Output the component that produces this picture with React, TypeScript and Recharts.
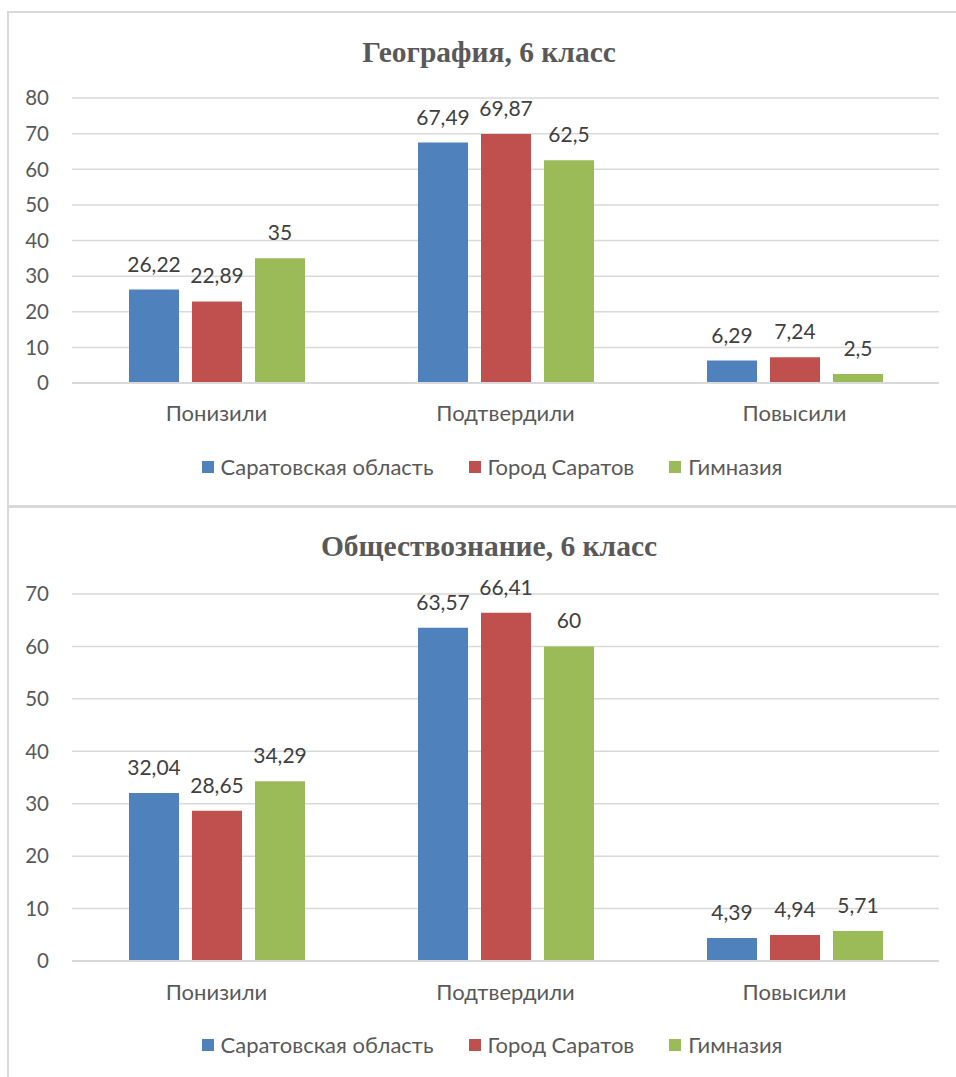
import React from 'react';
import { BarChart, Bar, XAxis, YAxis, CartesianGrid, LabelList, Legend } from 'recharts';

const categories = ['Понизили', 'Подтвердили', 'Повысили'];
const seriesNames = ['Саратовская область', 'Город Саратов', 'Гимназия'];
const seriesColors = ['#4F81BD', '#C0504D', '#9BBB59'];

const geoRegion = [26.22, 67.49, 6.29];
const geoCity = [22.89, 69.87, 7.24];
const geoSchool = [35, 62.5, 2.5];

const socRegion = [32.04, 63.57, 4.39];
const socCity = [28.65, 66.41, 4.94];
const socSchool = [34.29, 60, 5.71];

const geoTicks = [0, 10, 20, 30, 40, 50, 60, 70, 80];
const socTicks = [0, 10, 20, 30, 40, 50, 60, 70];

const titles = ['География, 6 класс', 'Обществознание, 6 класс'];

const FONT = 'Lato, "Noto Sans", sans-serif';
const TEXT = '#595959';
const LABEL = '#404040';
const GRID = '#D9D9D9';

const build = (a: number[], b: number[], c: number[]) =>
  categories.map((cat, i) => ({ cat, s0: a[i], s1: b[i], s2: c[i] }));

const geoData = build(geoRegion, geoCity, geoSchool);
const socData = build(socRegion, socCity, socSchool);

const fmt = (v: any) => String(v).replace('.', ',');

const LegendContent = () => (
  <div
    style={{
      display: 'flex',
      justifyContent: 'center',
      alignItems: 'center',
      gap: 35,
      fontFamily: FONT,
      fontSize: 22,
      color: TEXT,
      whiteSpace: 'nowrap',
    }}
  >
    {seriesNames.map((n, i) => (
      <div key={n} style={{ display: 'flex', alignItems: 'center' }}>
        <span style={{ display: 'inline-block', width: 12, height: 12, background: seriesColors[i], marginRight: 7 }} />
        <span>{n}</span>
      </div>
    ))}
  </div>
);

type PanelProps = {
  data: any[];
  ticks: number[];
  max: number;
  top: number;
  height: number;
  margin: { top: number; right: number; left: number; bottom: number };
  legendTop: number;
  tickGap: number;
};

const Panel = ({ data, ticks, max, top, height, margin, legendTop, tickGap }: PanelProps) => (
  <div style={{ position: 'absolute', left: 0, top, width: 956, height }}>
    <BarChart width={956} height={height} data={data} margin={margin} barSize={50} barGap={13}>
      <CartesianGrid vertical={false} stroke={GRID} strokeWidth={1.5} />
      <XAxis
        dataKey="cat"
        height={30}
        axisLine={{ stroke: GRID, strokeWidth: 2 }}
        tickLine={false}
        tickSize={0}
        tickMargin={tickGap}
        tick={{ fill: TEXT, fontSize: 22, fontFamily: FONT }}
        interval={0}
      />
      <YAxis
        width={52}
        domain={[0, max]}
        ticks={ticks}
        interval={0}
        axisLine={false}
        tickLine={false}
        tickSize={0}
        tickMargin={23}
        tick={{ fill: TEXT, fontSize: 20.5, fontFamily: FONT }}
      />
      <Legend
        layout="horizontal"
        verticalAlign="middle"
        align="center"
        content={() => <LegendContent />}
        wrapperStyle={{ top: legendTop, left: 14, width: 956 }}
      />
      {['s0', 's1', 's2'].map((k, i) => (
        <Bar key={k} dataKey={k} name={seriesNames[i]} fill={seriesColors[i]} isAnimationActive={false}>
          <LabelList
            dataKey={k}
            position="top"
            offset={18}
            formatter={fmt}
            style={{ fill: LABEL, fontSize: 21, fontFamily: FONT }}
          />
        </Bar>
      ))}
    </BarChart>
  </div>
);

const Title = ({ text, y }: { text: string; y: number }) => (
  <svg style={{ position: 'absolute', left: 0, top: 0 }} width={956} height={1077}>
    <text
      x={489}
      y={y}
      textAnchor="middle"
      fill={TEXT}
      style={{ fontFamily: '"Liberation Serif", "Times New Roman", serif', fontWeight: 'bold', fontSize: 29.5 }}
    >
      {text}
    </text>
  </svg>
);

export default function App() {
  return (
    <div
      style={{
        position: 'fixed',
        left: 0,
        top: 0,
        width: 956,
        height: 1077,
        background: '#fff',
        overflow: 'hidden',
      }}
    >
      <div style={{ position: 'absolute', left: 7, top: 11, width: 980, height: 492, border: `2px solid ${GRID}` }} />
      <div style={{ position: 'absolute', left: 7, top: 506, width: 980, height: 620, border: `2px solid ${GRID}` }} />
      <Title text={titles[0]} y={62} />
      <Title text={titles[1]} y={556} />
      <Panel
        data={geoData}
        ticks={geoTicks}
        max={80}
        top={0}
        height={495}
        margin={{ top: 98, right: 17, left: 20, bottom: 82 }}
        legendTop={453}
        tickGap={22}
      />
      <Panel
        data={socData}
        ticks={socTicks}
        max={70}
        top={507}
        height={560}
        margin={{ top: 87, right: 17, left: 20, bottom: 76 }}
        legendTop={524}
        tickGap={23}
      />
    </div>
  );
}
